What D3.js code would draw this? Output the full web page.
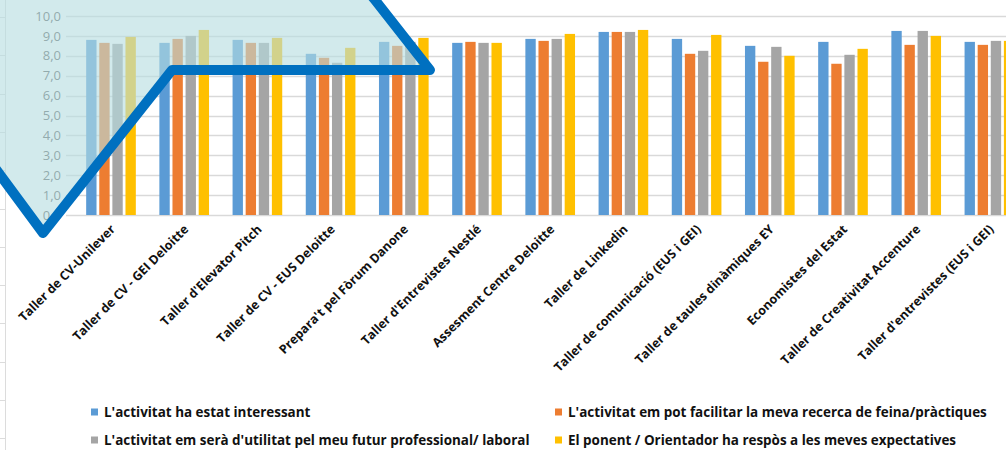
<!DOCTYPE html>
<html>
<head>
<meta charset="utf-8">
<script src="https://cdn.jsdelivr.net/npm/d3@7"></script>
<style>
  html, body { margin: 0; padding: 0; background: #fff; }
  svg { display: block; }
</style>
</head>
<body>
<svg id="chart" width="1006" height="450"></svg>
<script>
const categories = [
  "Taller de CV-Unilever",
  "Taller de CV - GEI Deloitte",
  "Taller d'Elevator Pitch",
  "Taller de CV - EUS Deloitte",
  "Prepara't pel Fòrum Danone",
  "Taller d'Entrevistes Nestlé",
  "Assesment Centre Deloitte",
  "Taller de Linkedin",
  "Taller de comunicació (EUS i GEI)",
  "Taller de taules dinàmiques  EY",
  "Economistes del Estat",
  "Taller de Creativitat Accenture",
  "Taller d'entrevistes (EUS i GEI)"
];
const seriesNames = [
  "L'activitat ha estat interessant",
  "L'activitat em pot facilitar la meva recerca de feina/pràctiques",
  "L'activitat em serà d'utilitat pel meu futur professional/ laboral",
  "El ponent / Orientador ha respòs a les meves expectatives"
];
const interessant = [8.8, 8.65, 8.8, 8.1, 8.7, 8.65, 8.85, 9.2, 8.85, 8.5, 8.7, 9.25, 8.7];
const facilitar   = [8.65, 8.85, 8.65, 7.9, 8.5, 8.7, 8.75, 9.2, 8.1, 7.7, 7.6, 8.55, 8.55];
const utilitat    = [8.6, 9.0, 8.65, 7.65, 8.7, 8.65, 8.85, 9.2, 8.25, 8.45, 8.05, 9.25, 8.75];
const ponent      = [8.95, 9.3, 8.9, 8.4, 8.9, 8.65, 9.1, 9.3, 9.05, 8.0, 8.35, 9.0, 8.75];
const yTickValues = [0, 1, 2, 3, 4, 5, 6, 7, 8, 9, 10];
const colors = ["#5b9bd5", "#ed7d31", "#a5a5a5", "#ffc000"];

const seriesValues = [interessant, facilitar, utilitat, ponent];
const rows = categories.map((c, i) => ({
  cat: c,
  vals: seriesNames.map((s, j) => ({ s, v: seriesValues[j][i], j }))
}));

const FONT = "'Open Sans', Lato, sans-serif";
const svg = d3.select("#chart");
const fmt = d3.formatLocale({decimal: ",", thousands: ".", grouping: [3], currency: ["", "€"]}).format(".1f");

// spreadsheet cell lines (background)
const bg = svg.append("g");
bg.append("line").attr("x1", 5.5).attr("x2", 5.5).attr("y1", 0).attr("y2", 450)
  .attr("stroke", "#dcdcdc").attr("stroke-width", 1);
bg.selectAll("line.row").data(d3.range(17, 450, 38.3)).join("line").attr("class", "row")
  .attr("x1", 0).attr("x2", 5).attr("y1", d => Math.round(d) + 0.5).attr("y2", d => Math.round(d) + 0.5)
  .attr("stroke", "#dcdcdc");

const y = d3.scaleLinear().domain([0, 10]).range([215, 16]);
const x0 = d3.scaleBand().domain(categories).range([74.4, 1026])
  .paddingInner(0.284).paddingOuter(0.142);
const x1 = d3.scaleBand().domain(seriesNames).range([0, x0.bandwidth()])
  .paddingInner(0.21).paddingOuter(0.105);
const color = d3.scaleOrdinal().domain(seriesNames).range(colors);

// gridlines
svg.append("g").selectAll("line").data(yTickValues).join("line")
  .attr("x1", 66).attr("x2", 1006)
  .attr("y1", d => Math.round(y(d)) + 0.5).attr("y2", d => Math.round(y(d)) + 0.5)
  .attr("stroke", "#d9d9d9").attr("stroke-width", 1.3);

// y axis labels
const yAxis = d3.axisLeft(y).tickValues(yTickValues).tickFormat(fmt).tickSize(0).tickPadding(0);
const ya = svg.append("g").attr("transform", "translate(61,0)").call(yAxis);
ya.select(".domain").remove();
ya.selectAll("text").attr("fill", "#595959").attr("font-family", FONT)
  .attr("font-size", 13);

// bars
const groups = svg.append("g").selectAll("g").data(rows).join("g")
  .attr("transform", d => `translate(${x0(d.cat)},0)`);
groups.selectAll("rect").data(d => d.vals).join("rect")
  .attr("x", d => x1(d.s)).attr("width", x1.bandwidth())
  .attr("y", d => y(d.v)).attr("height", d => y(0) - y(d.v))
  .attr("fill", d => color(d.s));

// x labels
const xAxis = d3.axisBottom(x0).tickSize(0).tickPadding(0);
const xa = svg.append("g").attr("transform", "translate(2,227)").call(xAxis);
xa.select(".domain").remove();
xa.selectAll("text")
  .attr("font-family", FONT).attr("font-weight", "bold")
  .attr("font-size", 12.5).attr("fill", "#111")
  .attr("text-anchor", "end").attr("dy", "0.35em").attr("y", 0).attr("x", 0)
  .attr("transform", "rotate(-45)");

// legend
const legendPos = [[91, 412], [555, 412], [91, 440], [555, 440]];
const lg = svg.append("g").selectAll("g").data(seriesNames).join("g")
  .attr("transform", (d, i) => `translate(${legendPos[i][0]},${legendPos[i][1]})`);
lg.append("rect").attr("x", 0).attr("y", -3.5).attr("width", 7).attr("height", 7).attr("fill", d => color(d));
lg.append("text").attr("x", 13).attr("y", 0).attr("dy", "0.35em")
  .attr("font-family", FONT).attr("font-weight", "bold")
  .attr("font-size", 13.45).attr("fill", "#111").text(d => d);

// overlay shape (decorative)
const overlayPts = [[375, 0], [430, 70], [172, 70], [43, 233], [-5, 168]];
const ov = svg.append("g");
ov.append("path")
  .attr("d", d3.line()([[-10, -10], [367, -10], ...overlayPts]) + "Z")
  .attr("fill", "rgb(183,221,224)").attr("fill-opacity", 0.62);
ov.append("path")
  .attr("d", d3.line()([[367, -10], ...overlayPts]))
  .attr("fill", "none").attr("stroke", "#0070c0").attr("stroke-width", 10)
  .attr("stroke-linejoin", "round").attr("stroke-linecap", "round");
</script>
</body>
</html>
